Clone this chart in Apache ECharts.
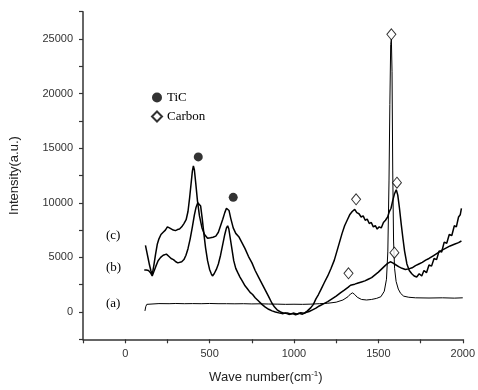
<!DOCTYPE html>
<html>
<head>
<meta charset="utf-8">
<script src="https://cdn.jsdelivr.net/npm/echarts@6/dist/echarts.min.js"></script>
<style>
html,body{margin:0;padding:0;background:#fff;}
#chart{width:478px;height:390px;}
</style>
</head>
<body>
<div id="chart"></div>
<script>
// Raman spectra (a), (b), (c): [wave number, intensity]
const curveA = [[117,100],[122,500],[128,700],[135,780],[200,770],[260,760],[300,780],[350,760],[400,770],[450,760],[500,780],[550,760],[600,760],[650,750],[700,760],[750,740],[800,750],[850,730],[900,720],[950,700],[1000,710],[1050,700],[1100,720],[1150,760],[1200,800],[1250,900],[1290,1100],[1320,1400],[1335,1650],[1347,1750],[1360,1600],[1375,1350],[1400,1150],[1430,1100],[1460,1150],[1490,1250],[1515,1400],[1535,1900],[1548,3000],[1556,5500],[1563,12000],[1568,19000],[1573,24500],[1577,25000],[1581,22000],[1585,13000],[1590,6500],[1596,4000],[1605,2800],[1618,2100],[1632,1700],[1650,1450],[1680,1350],[1720,1300],[1800,1280],[1880,1300],[1950,1270],[2000,1300]];

const curveB = [[113,3850],[125,3850],[138,3800],[150,3600],[160,3300],[170,3700],[182,4200],[195,4700],[210,5000],[225,5200],[244,5300],[258,5100],[272,4900],[286,4800],[300,4600],[312,4500],[322,4450],[335,4600],[348,4800],[360,5200],[372,5800],[385,6700],[398,7800],[410,8900],[420,9600],[430,10000],[439,10100],[447,9700],[456,8600],[466,7200],[476,5900],[488,4700],[500,3900],[510,3500],[517,3300],[527,3500],[540,3900],[552,4400],[565,5200],[578,6200],[590,7100],[600,7700],[607,7900],[614,7600],[622,6800],[632,5800],[643,4700],[655,4000],[667,3600],[680,3200],[695,2800],[710,2400],[725,2100],[740,1800],[755,1600],[770,1300],[790,1000],[810,700],[830,450],[850,250],[870,100],[890,0],[910,-80],[930,-150],[950,-100],[970,-220],[990,-150],[1010,-250],[1030,-120],[1050,-200],[1070,-50],[1090,50],[1110,200],[1130,350],[1150,550],[1175,750],[1200,950],[1225,1200],[1250,1450],[1275,1750],[1298,2000],[1320,2250],[1335,2450],[1347,2500],[1360,2550],[1380,2650],[1400,2750],[1420,2850],[1440,3000],[1460,3150],[1480,3400],[1500,3650],[1520,3950],[1540,4250],[1555,4450],[1571,4600],[1585,4500],[1600,4350],[1620,4150],[1640,4000],[1660,3900],[1680,3950],[1700,4050],[1720,4250],[1740,4400],[1760,4550],[1780,4750],[1800,4900],[1825,5150],[1850,5400],[1875,5650],[1900,5850],[1925,6050],[1950,6200],[1975,6350],[1992,6500]];

const curveC = [[120,6100],[128,5500],[136,4900],[144,4300],[152,3800],[160,3400],[170,4300],[180,5300],[190,6200],[200,6700],[212,7100],[225,7300],[238,7500],[250,7800],[262,7700],[273,7650],[285,7500],[298,7450],[310,7550],[322,7600],[335,7800],[348,8100],[361,8450],[372,9200],[382,10500],[392,12000],[398,12900],[404,13370],[410,13000],[418,11800],[428,10200],[440,8800],[455,7700],[470,7100],[488,6750],[505,6800],[520,6850],[537,6950],[552,7300],[565,7900],[578,8500],[590,9100],[600,9500],[607,9600],[615,9300],[625,8600],[640,7700],[655,7200],[673,6900],[690,6400],[710,5800],[730,5100],[751,4500],[770,3800],[790,3200],[810,2600],[830,2000],[850,1400],[868,850],[885,450],[900,200],[920,0],[940,-120],[960,-80],[980,-180],[1000,-100],[1020,-200],[1040,-60],[1060,-120],[1080,100],[1100,400],[1115,700],[1130,1200],[1145,1600],[1161,2100],[1180,2700],[1200,3300],[1220,4000],[1239,4750],[1255,5600],[1270,6400],[1285,7200],[1300,7900],[1315,8400],[1330,8900],[1345,9200],[1360,9400],[1372,9100],[1385,9000],[1398,8700],[1410,8800],[1422,8400],[1434,8500],[1446,8100],[1458,8200],[1470,7800],[1482,7900],[1493,7600],[1505,7800],[1517,7700],[1530,8200],[1542,8400],[1555,8700],[1565,9200],[1575,9500],[1585,10200],[1595,10800],[1606,11200],[1615,10700],[1625,9500],[1635,8100],[1645,6800],[1655,5600],[1669,4400],[1683,3800],[1698,3500],[1712,3300],[1727,3200],[1742,3500],[1757,3300],[1770,3800],[1785,3600],[1800,4300],[1815,4200],[1830,4900],[1845,4800],[1860,5600],[1875,5500],[1890,6400],[1905,6300],[1920,7100],[1935,7000],[1950,7900],[1962,7800],[1975,8700],[1985,8900],[1992,9500]];

// peak markers
const tiCPeaks = [[433,14200],[640,10500]];
const carbonPeaks = [[1577,25430],[1368,10320],[1610,11840],[1323,3540],[1595,5430]];

const curveLabels = ['(a)','(b)','(c)'];
const legendNames = ['TiC','Carbon'];

const chart = echarts.init(document.getElementById('chart'), null, {renderer:'canvas'});
const axisColor = '#333';
const sans = 'Liberation Sans, Arial, sans-serif';
const serif = 'Liberation Serif, Times New Roman, serif';

function lineSeries(name, data, w){
  return {name:name, type:'line', data:data, showSymbol:false, symbol:'none', silent:true,
    lineStyle:{color:'#000', width:w}, z:2, animation:false};
}

chart.setOption({
  animation:false,
  backgroundColor:'#fff',
  grid:{left:82, right:11, top:11.7, bottom:50.7},
  legend:{
    data:legendNames, orient:'vertical', left:146, top:86,
    itemWidth:10, itemHeight:10, itemGap:6,
    textStyle:{fontFamily:serif, fontSize:13, color:'#000'}
  },
  xAxis:{
    type:'value', min:-250, max:2000, interval:250,
    name:'Wave number(cm{sup|-1})', nameLocation:'middle', nameGap:30,
    nameTextStyle:{fontFamily:sans, fontSize:13, color:'#222', padding:[0,14,0,0],
      rich:{sup:{fontFamily:sans, fontSize:8, color:'#222', verticalAlign:'bottom', padding:[0,0,9,0]}}},
    axisLine:{onZero:false, lineStyle:{color:axisColor, width:1.5}},
    axisTick:{length:4, lineStyle:{color:axisColor, width:1.2}},
    axisLabel:{margin:9, fontFamily:sans, fontSize:11, color:'#333',
      formatter:function(v){return (v % 500 === 0) ? String(v) : '';}},
    splitLine:{show:false}
  },
  yAxis:{
    type:'value', min:-2500, max:27500, interval:2500,
    name:'Intensity(a.u.)', nameLocation:'middle', nameGap:62,
    nameTextStyle:{fontFamily:sans, fontSize:13, color:'#222'},
    axisLine:{onZero:false, lineStyle:{color:axisColor, width:1.5}},
    axisTick:{length:4, lineStyle:{color:axisColor, width:1.2}},
    axisLabel:{margin:10, fontFamily:sans, fontSize:11, color:'#333',
      formatter:function(v){return (v % 5000 === 0) ? String(v) : '';}},
    splitLine:{show:false}
  },
  graphic:[
    {type:'text', left:106, top:229, style:{text:curveLabels[2], font:'13px '+serif, fill:'#000'}},
    {type:'text', left:106, top:261, style:{text:curveLabels[1], font:'13px '+serif, fill:'#000'}},
    {type:'text', left:106, top:297, style:{text:curveLabels[0], font:'13px '+serif, fill:'#000'}}
  ],
  series:[
    lineSeries('a', curveA, 1),
    lineSeries('b', curveB, 1.5),
    lineSeries('c', curveC, 1.5),
    {name:'TiC', type:'scatter', data:tiCPeaks, symbol:'circle', symbolSize:9,
      itemStyle:{color:'#000'}, z:5, animation:false},
    {name:'Carbon', type:'scatter', data:carbonPeaks, symbol:'diamond', symbolSize:[9,11],
      itemStyle:{color:'#fff', borderColor:'#000', borderWidth:1}, z:5, animation:false}
  ]
});
</script>
</body>
</html>
